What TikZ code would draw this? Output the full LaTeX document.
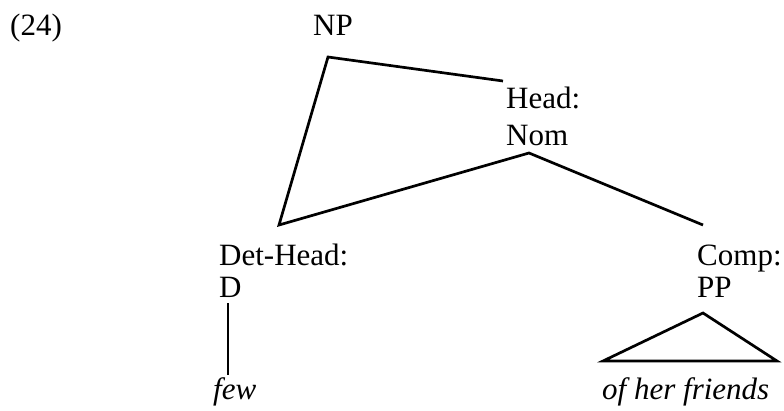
\documentclass[tikz,border=0pt]{standalone}
\usepackage{fontspec}
\setmainfont{Liberation Serif}
\begin{document}
\begin{tikzpicture}[x=1pt,y=-1pt,
  lab/.style={anchor=base west,inner sep=0pt,font=\fontsize{31}{36}\selectfont},
  edge/.style={line width=2.7pt,line join=miter,line cap=butt}]
\useasboundingbox (0,0) rectangle (784,410);
\node[lab] (ex) at (10,35) {(24)};
\node[lab] (np) at (313,35) {NP};
\node[lab] (headA) at (506,108) {Head:};
\node[lab] (headB) at (506,145) {Nom};
\node[lab] (detA) at (219,265) {Det-Head:};
\node[lab] (detB) at (219,297) {D};
\node[lab] (compA) at (697,265) {Comp:};
\node[lab] (compB) at (697,297) {PP};
\node[lab] (few) at (213,399) {\itshape few};
\node[lab] (ohf) at (602,399) {\itshape of her friends};
% attachment points
\coordinate (npB) at (328,57);
\coordinate (headT) at (503,81);
\coordinate (detT) at (279,225);
\coordinate (nomB) at (529,153);
\coordinate (compT) at (703,225);
\coordinate (dB) at (228,303);
\coordinate (fewT) at (228,375);
\coordinate (ppB) at (703,313);
\coordinate (triL) at (603,361);
\coordinate (triR) at (777,361);
\draw[edge] (headT) -- (npB) -- (detT) -- (nomB) -- (compT);
\draw[edge] (dB) -- (fewT);
\draw[edge] (triL) -- (ppB) -- (triR) -- cycle;
\end{tikzpicture}
\end{document}
